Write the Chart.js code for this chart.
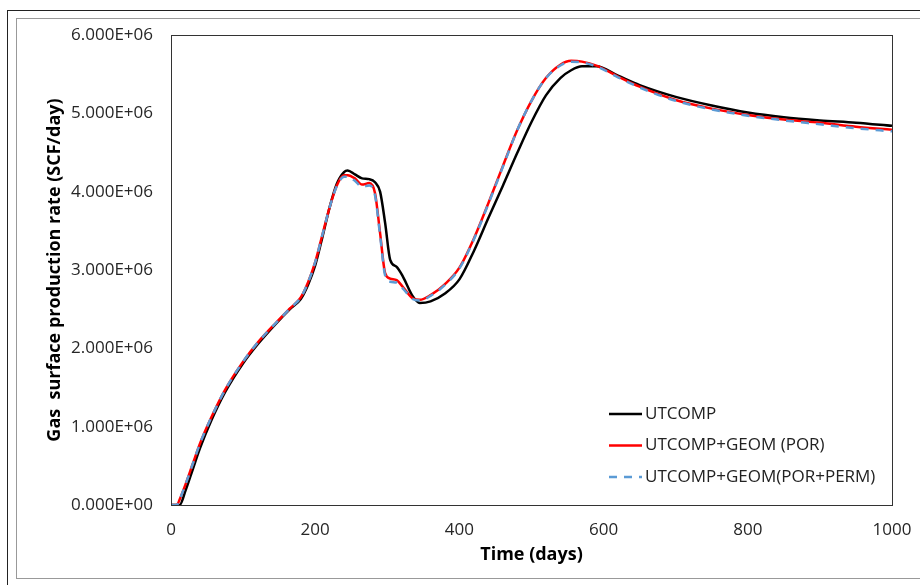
<!DOCTYPE html>
<html>
<head>
<meta charset="utf-8">
<script src="https://cdn.jsdelivr.net/npm/chart.js@4.4.1/dist/chart.umd.min.js"></script>
<style>
    body { margin: 0; background: #fff; }
    #wrap { position: relative; width: 920px; height: 585px; overflow: hidden; }
    .ln { position: absolute; }
    #chart { position: absolute; left: 0; top: 0; }
</style>
</head>
<body>
<div id="wrap">
    <div class="ln" style="left:7px; top:10px; width:913px; height:1px; background:#222;"></div>
    <div class="ln" style="left:7px; top:10px; width:1px; height:575px; background:#222;"></div>
    <div class="ln" style="left:16px; top:18px; width:904px; height:1px; background:#999;"></div>
    <div class="ln" style="left:16px; top:18px; width:1px; height:561px; background:#999;"></div>
    <div class="ln" style="left:16px; top:578px; width:904px; height:1px; background:#999;"></div>
    <canvas id="chart" width="920" height="585"></canvas>
</div>
<script>
const days = [0, 8, 12, 20, 30, 40, 55, 75, 100, 120, 145, 165, 180, 190, 200, 210, 220, 230, 240, 245,
    255, 265, 275, 283, 290, 297, 304, 313, 322, 335, 345, 360, 380, 400, 420, 440, 460, 480, 500, 520,
    540, 555, 570, 590, 620, 650, 700, 750, 800, 850, 900, 950, 1000];

// values in millions of SCF/day
const utcomp = [0, 0, 0, 0.18, 0.45, 0.72, 1.06, 1.44, 1.81, 2.05, 2.31, 2.50, 2.63, 2.81, 3.06, 3.42, 3.80, 4.10, 4.25, 4.27,
    4.22, 4.17, 4.16, 4.12, 4.00, 3.60, 3.13, 3.04, 2.91, 2.67, 2.58, 2.60, 2.70, 2.88, 3.24, 3.66, 4.07, 4.49, 4.89, 5.23,
    5.45, 5.55, 5.60, 5.60, 5.48, 5.36, 5.21, 5.10, 5.01, 4.95, 4.91, 4.88, 4.84];
const geomPor = [0, 0, 0.07, 0.26, 0.52, 0.78, 1.10, 1.47, 1.83, 2.07, 2.32, 2.51, 2.65, 2.84, 3.10, 3.45, 3.80, 4.08, 4.21, 4.21,
    4.17, 4.09, 4.11, 3.98, 3.47, 2.96, 2.89, 2.87, 2.78, 2.64, 2.62, 2.68, 2.82, 3.03, 3.40, 3.85, 4.32, 4.78, 5.16, 5.45,
    5.62, 5.67, 5.66, 5.61, 5.47, 5.34, 5.17, 5.06, 4.98, 4.92, 4.88, 4.83, 4.79];
const geomPorPerm = [0, 0, 0.07, 0.26, 0.52, 0.78, 1.10, 1.47, 1.83, 2.07, 2.32, 2.51, 2.65, 2.84, 3.10, 3.45, 3.80, 4.07, 4.19, 4.19,
    4.14, 4.06, 4.08, 3.95, 3.44, 2.93, 2.85, 2.84, 2.76, 2.63, 2.61, 2.67, 2.81, 3.02, 3.39, 3.84, 4.31, 4.78, 5.16, 5.45,
    5.61, 5.66, 5.65, 5.60, 5.46, 5.33, 5.16, 5.05, 4.97, 4.91, 4.86, 4.81, 4.77];

const labels = ["UTCOMP", "UTCOMP+GEOM (POR)", "UTCOMP+GEOM(POR+PERM)"];
const xTicks = [0, 200, 400, 600, 800, 1000];
const yMax = 6e6;
const yStep = 1e6;

const font = "'Open Sans', 'Liberation Sans', sans-serif";

function pts(vals) {
    return days.map((d, i) => ({ x: d, y: vals[i] * 1e6 }));
}

function sci(v) {
    if (v === 0) return "0.000E+00";
    const e = Math.floor(Math.log10(v) + 1e-9);
    const m = v / Math.pow(10, e);
    return m.toFixed(3) + "E+" + String(e).padStart(2, "0");
}

// plot frame and the legend box inside the plot
const frame = {
    id: "frame",
    afterDraw(chart) {
        const c = chart.ctx;
        const a = chart.chartArea;
        c.save();
        c.lineWidth = 1;
        c.strokeStyle = "#333";
        c.strokeRect(Math.round(a.left) + 0.5, Math.round(a.top) + 0.5, Math.round(a.right - a.left), Math.round(a.bottom - a.top));
        c.restore();

        c.save();
        c.font = "17px " + font;
        c.textBaseline = "middle";
        c.fillStyle = "#222";
        const x0 = a.right - 283;
        chart.data.datasets.forEach((ds, i) => {
            const y = a.bottom - 91 + i * 31.5;
            c.beginPath();
            c.strokeStyle = ds.borderColor;
            c.lineWidth = ds.borderWidth;
            c.setLineDash(ds.borderDash || []);
            c.moveTo(x0, y);
            c.lineTo(x0 + 33, y);
            c.stroke();
            c.setLineDash([]);
            c.fillText(ds.label, x0 + 36, y);
        });
        c.restore();
    }
};

new Chart(document.getElementById("chart"), {
    type: "line",
    data: {
        datasets: [
            { label: labels[0], data: pts(utcomp), borderColor: "#000", borderWidth: 2.5, order: 2 },
            { label: labels[1], data: pts(geomPor), borderColor: "#ff0000", borderWidth: 2.5, order: 1 },
            { label: labels[2], data: pts(geomPorPerm), borderColor: "#5b9bd5", borderWidth: 2.5, borderDash: [8, 7], order: 0 }
        ]
    },
    options: {
        responsive: false,
        animation: false,
        layout: { padding: { top: 35, right: 28, left: 0, bottom: 0 } },
        elements: { point: { radius: 0 }, line: { cubicInterpolationMode: "monotone", fill: false } },
        plugins: { legend: { display: false }, tooltip: { enabled: false } },
        scales: {
            x: {
                type: "linear",
                min: 0,
                max: 1000,
                afterBuildTicks: s => { s.ticks = xTicks.map(v => ({ value: v })); },
                afterFit: s => { s.height = 80; s.paddingLeft = 0; s.paddingRight = 0; },
                grid: { display: false, drawTicks: false },
                border: { display: false },
                ticks: { padding: 15, color: "#262626", font: { family: font, size: 17 }, maxRotation: 0, callback: v => String(v) },
                title: { display: true, text: "Time (days)", color: "#000", padding: { bottom: 19 }, font: { family: font, size: 18, weight: "bold" } }
            },
            y: {
                min: 0,
                max: yMax,
                afterFit: s => { s.width = 171; },
                grid: { display: false, drawTicks: false },
                border: { display: false },
                ticks: { stepSize: yStep, padding: 18, color: "#262626", font: { family: font, size: 17 }, callback: v => sci(v) },
                title: { display: true, text: "Gas  surface production rate (SCF/day)", color: "#000", padding: { top: 44 }, font: { family: font, size: 18, weight: "bold" } }
            }
        }
    },
    plugins: [frame]
});
</script>
</body>
</html>
